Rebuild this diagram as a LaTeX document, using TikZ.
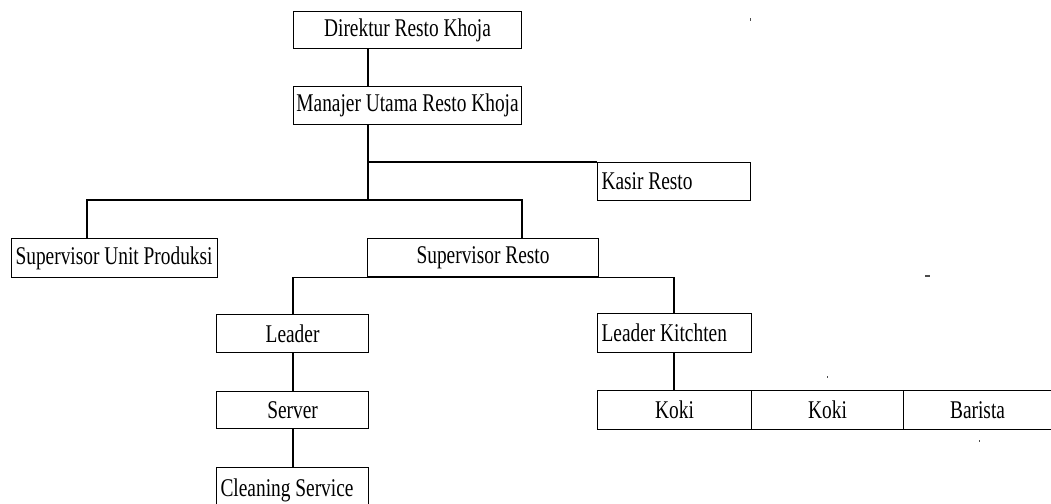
\documentclass[tikz,border=0pt]{standalone}
\usepackage{fontspec}
\setmainfont[FakeStretch=0.76]{Liberation Serif}
\begin{document}
\begin{tikzpicture}[x=1pt,y=-1pt,
  box/.style={draw, line width=1.1pt, inner sep=0pt, anchor=north west,
    font=\fontsize{25.5}{28}\selectfont},
  lbox/.style={box, inner xsep=4pt},
  conn/.style={line width=1.1pt},
  speck/.style={fill=black!70}]
\useasboundingbox (0,0) rectangle (1051,503);
\clip (0,0) rectangle (1051,503);
% boxes
\node[box, minimum width=228, minimum height=37] (dir) at (293,11) {Direktur Resto Khoja};
\node[box, minimum width=228, minimum height=38] (man) at (293,86) {Manajer Utama Resto Khoja};
\node[lbox, minimum height=38] (kas) at (597,162) {\makebox[145pt][l]{Kasir Resto}};
\node[lbox, minimum height=39] (sup) at (11,238) {\makebox[198pt][l]{Supervisor Unit Produksi}};
\node[box, minimum width=231, minimum height=38] (sr) at (367,238) {Supervisor Resto};
\node[box, minimum width=152, minimum height=38] (lead) at (216,314) {Leader};
\node[lbox, minimum height=39] (lk) at (597,313) {\makebox[146pt][l]{Leader Kitchten}};
\node[box, minimum width=152, minimum height=37] (srv) at (216,391) {Server};
\node[lbox, minimum height=45] (cs) at (216,467) {\makebox[144pt][l]{Cleaning Service}};
\node[box, minimum width=154, minimum height=39] (k1) at (597,390) {Koki};
\node[box, minimum width=152, minimum height=39] (k2) at (751,390) {Koki};
\node[box, minimum height=39] (bar) at (903,390) {\makebox[160pt][l]{\makebox[148pt][c]{Barista}}};
% junction coordinates
\coordinate (xa) at (368,0);
\coordinate (ya) at (0,162);
\coordinate (yb) at (0,200);
\coordinate (xb) at (87,0);
\coordinate (xc) at (522,0);
\coordinate (xd) at (293,0);
\coordinate (xe) at (674,0);
% connectors
\draw[conn] (dir.south -| xa) -- (man.north -| xa);
\draw[conn] (man.south -| xa) -- (xa |- yb);
\draw[conn] (xa |- ya) -- (kas.north west);
\draw[conn] (sup.north -| xb) -- (xb |- yb) -- (xc |- yb) -- (sr.north -| xc);
\draw[conn] (lead.north -| xd) -- (xd |- sr.south) -- (xe |- sr.south) -- (lk.north -| xe);
\draw[conn] (lead.south -| xd) -- (srv.north -| xd);
\draw[conn] (srv.south -| xd) -- (cs.north -| xd);
\draw[conn] (lk.south -| xe) -- (k1.north -| xe);
% specks
\fill[speck] (749.5,18.5) rectangle (751,21);
\fill[speck] (925,275) rectangle (930,277);
\fill[speck] (826.5,375.5) rectangle (828,377.5);
\fill[speck] (978.5,440) rectangle (980,442);
\end{tikzpicture}
\end{document}
